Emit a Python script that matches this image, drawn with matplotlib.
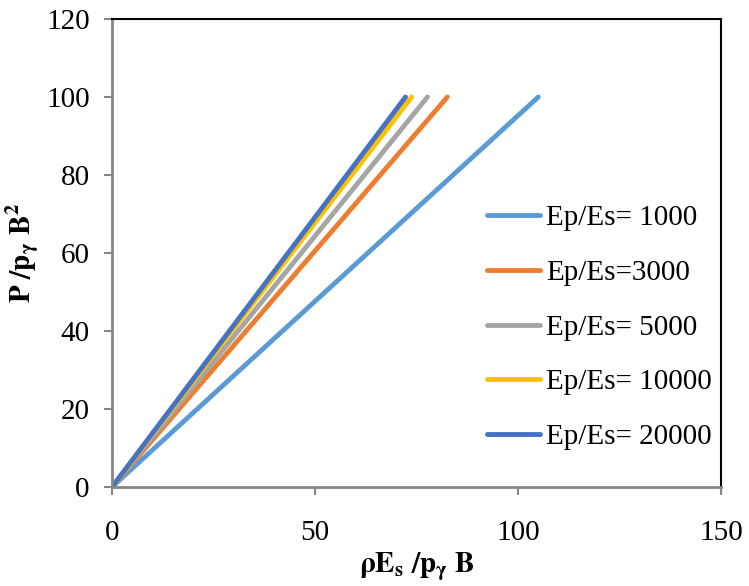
import matplotlib
matplotlib.use("Agg")
import matplotlib.pyplot as plt

# donnees (droites partant de l'origine)
labels = ["Ep/Es= 1000", "Ep/Es=3000", "Ep/Es= 5000", "Ep/Es= 10000", "Ep/Es= 20000"]
x_1000 = [0, 105]
x_3000 = [0, 82.6]
x_5000 = [0, 77.7]
x_10000 = [0, 73.8]
x_20000 = [0, 72.3]
y_charge = [0, 100]

couleurs = ["#5B9BD5", "#ED7D31", "#A5A5A5", "#FFC000", "#4472C4"]

plt.rcParams['font.family'] = ['Liberation Serif', 'DejaVu Serif']
plt.rcParams['mathtext.fontset'] = 'stix'

fig = plt.figure(figsize=(7.49, 5.86), dpi=100)
ax = fig.add_axes([112/749, (586-487)/586, 609/749, 468/586])

series = [x_1000, x_3000, x_5000, x_10000, x_20000]
for xs, lab, c in zip(series, labels, couleurs):
    ax.plot(xs, y_charge, color=c, lw=3.5, solid_capstyle='round', label=lab)

ax.set_xlim(0, 150)
ax.set_ylim(0, 120)
ax.set_xticks([0, 50, 100, 150])
ax.set_yticks(range(0, 121, 20))
ax.tick_params(axis='both', labelsize=21, direction='out', length=6, width=1.5,
               color='#868686')
ax.tick_params(axis='x', pad=18)
ax.tick_params(axis='y', pad=10)

for s in ['left', 'bottom']:
    ax.spines[s].set_color('#868686')
    ax.spines[s].set_linewidth(2)
for s in ['top', 'right']:
    ax.spines[s].set_color('black')
    ax.spines[s].set_linewidth(1.5)

ax.set_xlabel(r"$\mathbf{\rho E_s\ /p_{\gamma}\ B}$", fontsize=21, labelpad=3)
ax.set_ylabel(r"$\mathbf{P\ /p_{\gamma}\ B^2}$", fontsize=21, labelpad=4)

ax.legend(loc='center left', bbox_to_anchor=(487/749, (586-327.5)/586),
          bbox_transform=fig.transFigure, frameon=False, fontsize=21,
          borderpad=0, borderaxespad=0,
          handlelength=1.83, handletextpad=0.2, labelspacing=0.97)

fig.savefig("out.png", dpi=100)
